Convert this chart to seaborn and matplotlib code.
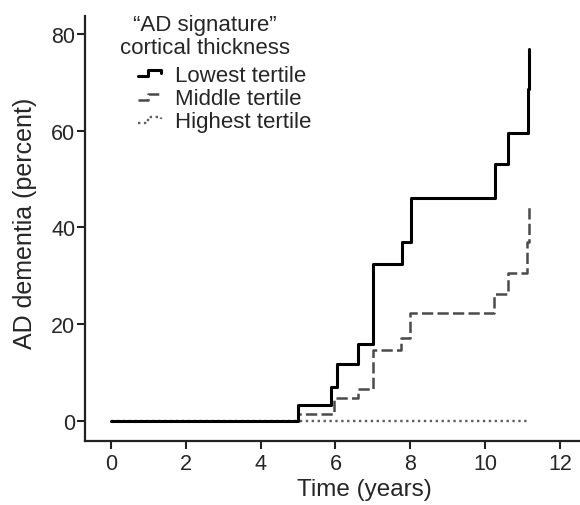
import numpy as np
import pandas as pd
import matplotlib
matplotlib.use("Agg")
import matplotlib.pyplot as plt
import seaborn as sns
from matplotlib.legend_handler import HandlerBase
from matplotlib.lines import Line2D

# cumulative incidence of AD dementia (percent) by years, step curves
low_t = [0, 5.0, 5.88, 6.04, 6.61, 7.01, 7.77, 8.01, 10.26, 10.62, 11.14, 11.17]
low_y = [0, 3.3, 7.0, 11.7, 15.8, 32.3, 37.0, 46.1, 53.1, 59.5, 68.5, 76.8]

mid_t = [0, 5.0, 5.95, 6.61, 7.0, 7.75, 8.0, 10.22, 10.62, 11.11, 11.17]
mid_y = [0, 1.3, 4.7, 6.6, 14.6, 17.0, 22.2, 26.2, 30.5, 37.0, 44.6]

high_t = [0, 11.17]
high_y = [0, 0]

groups = ["Lowest tertile", "Middle tertile", "Highest tertile"]

df = pd.concat([
    pd.DataFrame({"time": low_t, "pct": low_y, "group": groups[0]}),
    pd.DataFrame({"time": mid_t, "pct": mid_y, "group": groups[1]}),
    pd.DataFrame({"time": high_t, "pct": high_y, "group": groups[2]}),
])

sns.set_style("ticks")
plt.rcParams["font.family"] = ["Liberation Sans", "DejaVu Sans"]

fig = plt.figure(figsize=(5.8, 5.06), dpi=100)
ax = fig.add_axes([85 / 580, 1 - 442 / 506, 495 / 580, 425 / 506])

styles = {
    groups[0]: dict(color="black", lw=2.2, ls="-"),
    groups[1]: dict(color="#4a4a4a", lw=1.8, ls=(0, (4.5, 1.7))),
    groups[2]: dict(color="#5e5e5e", lw=1.7, ls=(0, (1.0, 1.5))),
}
# highest first so the solid line sits on top before year 5
for g in [groups[2], groups[1], groups[0]]:
    sub = df[df["group"] == g]
    sns.lineplot(data=sub, x="time", y="pct", ax=ax, estimator=None,
                 drawstyle="steps-post", label=g, legend=False, **styles[g])

ax.set_xlim(-0.69, 12.53)
ax.set_ylim(-4.24, 83.7)
ax.set_xticks(range(0, 13, 2))
ax.set_yticks(range(0, 81, 20))
ax.tick_params(axis="both", labelsize=15.5, length=6, width=1.5, color="#222222")
ax.tick_params(axis="y", pad=1)
ax.tick_params(axis="x", pad=3)
for s in ["top", "right"]:
    ax.spines[s].set_visible(False)
for s in ["left", "bottom"]:
    ax.spines[s].set_linewidth(1.6)
    ax.spines[s].set_color("#222222")

ax.set_xlabel("Time (years)", fontsize=17.5)
ax.set_ylabel("AD dementia (percent)", fontsize=18)
ax.xaxis.set_label_coords(0.564, -0.088)
ax.yaxis.set_label_coords(-0.097, 0.515)


class StepHandler(HandlerBase):
    # small step-shaped legend key
    def create_artists(self, legend, orig_handle, xdescent, ydescent,
                       width, height, fontsize, trans):
        xs = np.array([0, 0.4, 0.4, 0.95, 0.95]) * width - xdescent
        ys = np.array([0.3, 0.3, 0.68, 0.68, 0.52]) * height - ydescent
        ln = Line2D(xs, ys)
        self.update_prop(ln, orig_handle, legend)
        ln.set_drawstyle("default")
        ln.set_transform(trans)
        return [ln]


handles = {ln.get_label(): ln for ln in ax.lines}
h = [handles[g] for g in groups]
leg = ax.legend(h, groups, handler_map={Line2D: StepHandler()},
                loc="upper left", bbox_to_anchor=(138 / 580, 1 - 66 / 506),
                bbox_transform=fig.transFigure, frameon=False, fontsize=16,
                borderpad=0, borderaxespad=0, handlelength=1.1,
                handletextpad=0.55, labelspacing=0.1)

fig.text(205 / 580, 1 - 26 / 506, "\u201cAD signature\u201d", fontsize=16,
         ha="center", va="center")
fig.text(205 / 580, 1 - 49 / 506, "cortical thickness", fontsize=16,
         ha="center", va="center")

fig.savefig("out.png", dpi=100)
